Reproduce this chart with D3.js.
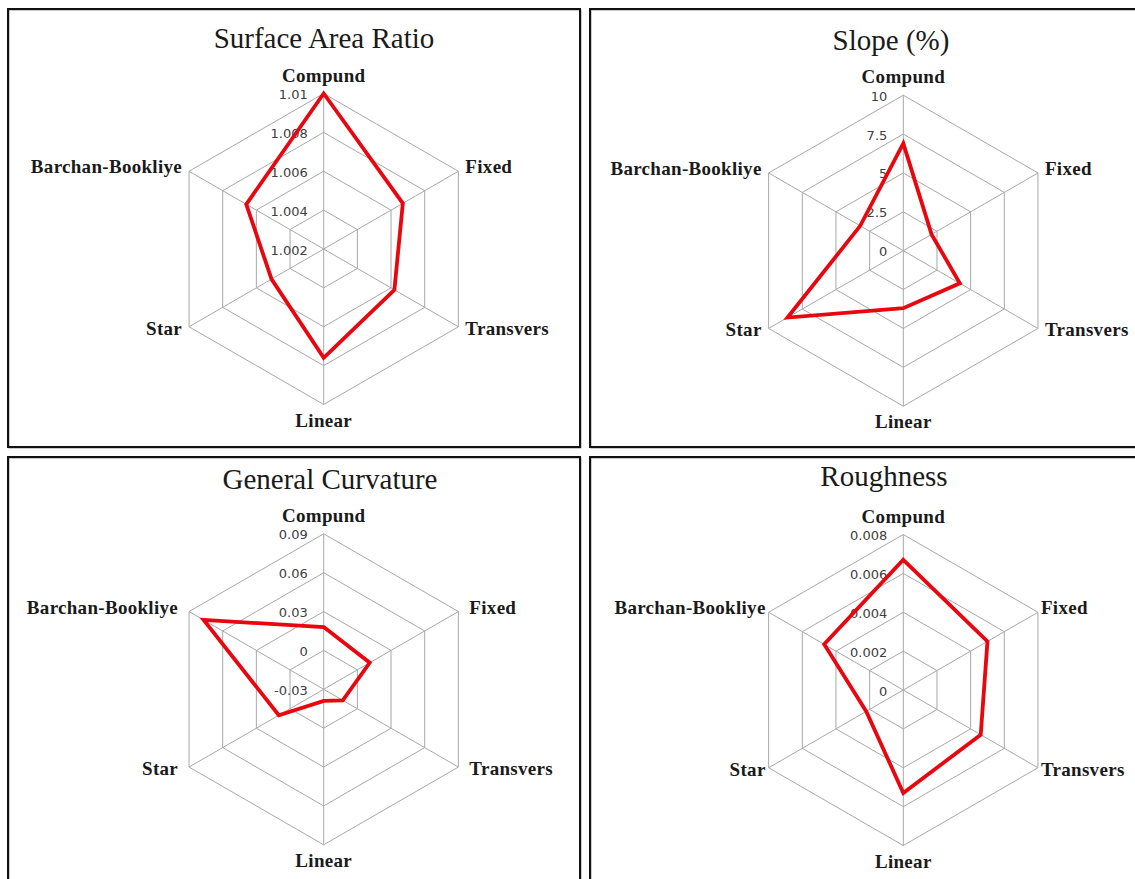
<!DOCTYPE html>
<html>
<head>
<meta charset="utf-8">
<script src="https://cdn.jsdelivr.net/npm/d3@7/dist/d3.min.js"></script>
<style>
  html, body { margin: 0; padding: 0; background: #ffffff; }
  svg { display: block; }
</style>
</head>
<body>
<svg id="chart" width="1135" height="879"></svg>
<script>
// Dune-type categories, clockwise from the top spoke
const categories = ["Compund", "Fixed", "Transvers", "Linear", "Star", "Barchan-Bookliye"];

// Panel titles
const titles = ["Surface Area Ratio", "Slope (%)", "General Curvature", "Roughness"];

// Series values per panel (same order as categories)
const surfaceAreaRatio = [1.0100, 1.0067, 1.0062, 1.0076, 1.0051, 1.0066];
const slope            = [6.9, 2.1, 4.2, 3.7, 8.6, 3.2];
const generalCurvature = [0.018, 0.011, -0.013, -0.021, 0.010, 0.077];
const roughness        = [0.0067, 0.0050, 0.0046, 0.0053, 0.0022, 0.0047];

// Radial axis ticks per panel (first tick sits at the centre)
const sarTicks   = [1.002, 1.004, 1.006, 1.008, 1.010];
const slopeTicks = [0, 2.5, 5, 7.5, 10];
const curvTicks  = [-0.03, 0, 0.03, 0.06, 0.09];
const roughTicks = [0, 0.002, 0.004, 0.006, 0.008];

// Tick label text per panel
const sarTickLabels   = ["1.002", "1.004", "1.006", "1.008", "1.01"];
const slopeTickLabels = ["0", "2.5", "5", "7.5", "10"];
const curvTickLabels  = ["-0.03", "0", "0.03", "0.06", "0.09"];
const roughTickLabels = ["0", "0.002", "0.004", "0.006", "0.008"];

const svg = d3.select("#chart");

// Layout of the four framed panels
const panels = [
  { frame: [8, 9, 572, 438],   cx: 323.7, cy: 249.0, title: [324, 48], gap: 7,
    values: surfaceAreaRatio, ticks: sarTicks, tickLabels: sarTickLabels },
  { frame: [590, 9, 560, 438], cx: 903.3, cy: 250.7, title: [891, 50], gap: 7,
    values: slope, ticks: slopeTicks, tickLabels: slopeTickLabels },
  { frame: [8, 457, 572, 440], cx: 323.7, cy: 689.3, title: [330, 489], gap: 11,
    values: generalCurvature, ticks: curvTicks, tickLabels: curvTickLabels },
  { frame: [590, 457, 560, 440], cx: 903.3, cy: 690.0, title: [884, 486], gap: 3,
    values: roughness, ticks: roughTicks, tickLabels: roughTickLabels }
];

const R = 155.5;
const step = 2 * Math.PI / categories.length;

panels.forEach((p, k) => {
  // frame
  svg.append("rect")
    .attr("x", p.frame[0] + 1).attr("y", p.frame[1] + 1)
    .attr("width", p.frame[2]).attr("height", p.frame[3])
    .attr("fill", "none").attr("stroke", "#9a9a9a").attr("stroke-width", 1);
  svg.append("rect")
    .attr("x", p.frame[0]).attr("y", p.frame[1])
    .attr("width", p.frame[2]).attr("height", p.frame[3])
    .attr("fill", "none").attr("stroke", "#111111").attr("stroke-width", 2);

  // title
  svg.append("text")
    .attr("x", p.title[0]).attr("y", p.title[1])
    .attr("text-anchor", "middle")
    .attr("font-family", "'Liberation Serif', 'Times New Roman', serif")
    .attr("font-size", 29)
    .attr("fill", "#1a1a1a")
    .text(titles[k]);

  const r = d3.scaleLinear()
    .domain([p.ticks[0], p.ticks[p.ticks.length - 1]])
    .range([0, R]);

  const g = svg.append("g").attr("transform", `translate(${p.cx},${p.cy})`);

  // hexagonal grid rings
  const ring = d3.lineRadial()
    .angle((d, i) => i * step)
    .radius(d => r(d))
    .curve(d3.curveLinearClosed);

  p.ticks.slice(1).forEach(t => {
    g.append("path")
      .attr("d", ring(categories.map(() => t)))
      .attr("fill", "none")
      .attr("stroke", "#a8a8a8")
      .attr("stroke-width", 1);
  });

  // spokes
  categories.forEach((c, i) => {
    const a = i * step;
    g.append("line")
      .attr("x1", 0).attr("y1", 0)
      .attr("x2", R * Math.sin(a)).attr("y2", -R * Math.cos(a))
      .attr("stroke", "#a8a8a8")
      .attr("stroke-width", 1);
  });

  // radial tick labels along the top spoke
  p.ticks.forEach((t, i) => {
    g.append("text")
      .attr("x", -16)
      .attr("y", -r(t) + 2)
      .attr("text-anchor", "end")
      .attr("dominant-baseline", "middle")
      .attr("font-family", "'DejaVu Sans', Verdana, sans-serif")
      .attr("font-size", 13)
      .attr("fill", "#404040")
      .text(p.tickLabels[i]);
  });

  // data polygon
  const series = d3.lineRadial()
    .angle((d, i) => i * step)
    .radius(d => r(d))
    .curve(d3.curveLinearClosed);

  g.append("path")
    .attr("d", series(p.values))
    .attr("fill", "none")
    .attr("stroke", "#e8060f")
    .attr("stroke-width", 3.8)
    .attr("stroke-linejoin", "miter");

  // category labels
  categories.forEach((c, i) => {
    const a = i * step;
    const vx = R * Math.sin(a), vy = -R * Math.cos(a);
    let x = vx, y = vy, anchor = "middle";
    if (i === 0) { y = vy - 12; }
    else if (i === 3) { y = vy + 22; }
    else if (i === 1) { x = vx + p.gap; y = vy + 2; anchor = "start"; }
    else if (i === 2) { x = vx + p.gap; y = vy + 8; anchor = "start"; }
    else if (i === 4) { x = vx - p.gap; y = vy + 8; anchor = "end"; }
    else { x = vx - p.gap; y = vy + 2; anchor = "end"; }
    g.append("text")
      .attr("x", x).attr("y", y)
      .attr("text-anchor", anchor)
      .attr("font-family", "'Liberation Serif', 'Times New Roman', serif")
      .attr("font-weight", "bold")
      .attr("font-size", 19)
      .attr("letter-spacing", 0.3)
      .attr("fill", "#1a1a1a")
      .text(c);
  });
});
</script>
</body>
</html>
